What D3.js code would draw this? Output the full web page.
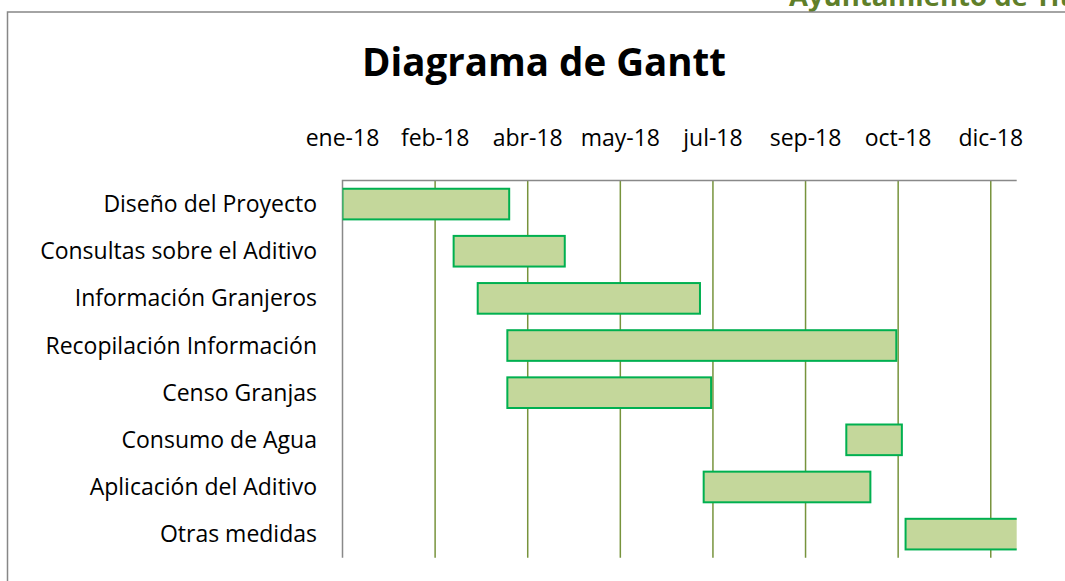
<!DOCTYPE html>
<html>
<head>
<meta charset="utf-8">
<script src="https://cdn.jsdelivr.net/npm/d3@7"></script>
<style>
  body { margin: 0; background: #fff; }
  svg { display: block; font-family: 'Open Sans', sans-serif; }
  .task-label, .tick-label { font-size: 23px; fill: #000; }
  .chart-title { font-size: 38.5px; font-weight: bold; fill: #000; }
  .header-text { font-size: 27.5px; font-weight: bold; fill: #5f7f2a; }
</style>
</head>
<body>
<svg id="gantt"></svg>
<script>
// Tasks (top to bottom), start dates and durations in days
const tasks = ['Diseño del Proyecto', 'Consultas sobre el Aditivo', 'Información Granjeros', 'Recopilación Información',
    'Censo Granjas', 'Consumo de Agua', 'Aplicación del Aditivo', 'Otras medidas'];
const startDates = ['2018-01-01', '2018-03-02', '2018-03-15', '2018-03-31', '2018-03-31', '2018-09-30', '2018-07-15', '2018-11-01'];
const durations = [90, 60, 120, 210, 110, 30, 90, 90];

// Axis: Excel date axis, major unit 50 days
const axisRange = ['2018-01-01', '2018-12-31'];
const tickDates = ['2018-01-01', '2018-02-20', '2018-04-11', '2018-05-31', '2018-07-20', '2018-09-08', '2018-10-28', '2018-12-17'];
const tickLabels = ['ene-18', 'feb-18', 'abr-18', 'may-18', 'jul-18', 'sep-18', 'oct-18', 'dic-18'];

class GanttVis {
    constructor(_config) {
        this.config = {
            parentElement: _config.parentElement,
            containerWidth: _config.containerWidth || 1065,
            containerHeight: _config.containerHeight || 581,
            plot: _config.plot || {left: 342.5, right: 1016.7, top: 180.5, bottom: 557.7}
        };
        this.parse = d3.utcParse('%Y-%m-%d');
        this.data = tasks.map((t, i) => {
            const start = this.parse(startDates[i]);
            return {task: t, start: start, end: d3.utcDay.offset(start, durations[i])};
        });
        this.initVis();
    }

    initVis() {
        let vis = this;

        vis.svg = d3.select(vis.config.parentElement)
            .attr('width', vis.config.containerWidth)
            .attr('height', vis.config.containerHeight);

        const p = vis.config.plot;
        vis.xScale = d3.scaleUtc().domain(axisRange.map(vis.parse)).range([p.left, p.right]);
        vis.yScale = d3.scaleBand().domain(tasks).range([p.top, p.bottom]).paddingInner(0.35).paddingOuter(0.175);

        // page header, cut by the top of the window as in the sheet
        vis.svg.append('text').attr('class', 'header-text')
            .attr('x', 789).attr('y', 6)
            .text('Ayuntamiento de Titaguas');

        // chart frame (only top and left visible)
        vis.svg.append('path')
            .attr('d', `M7.5,${vis.config.containerHeight} V12 H${vis.config.containerWidth}`)
            .attr('fill', 'none').attr('stroke', '#878787').attr('stroke-width', 1.5);

        vis.svg.append('text').attr('class', 'chart-title')
            .attr('x', 544).attr('y', 76)
            .attr('text-anchor', 'middle')
            .text('Diagrama de Gantt');

        vis.chart = vis.svg.append('g');
        vis.renderVis();
    }

    renderVis() {
        let vis = this;
        const p = vis.config.plot;

        // vertical gridlines
        vis.chart.selectAll('.grid')
            .data(tickDates.slice(1))
            .join('line')
            .attr('class', 'grid')
            .attr('x1', d => vis.xScale(vis.parse(d))).attr('x2', d => vis.xScale(vis.parse(d)))
            .attr('y1', p.top).attr('y2', p.bottom)
            .attr('stroke', '#77933c').attr('stroke-width', 1.5);

        // axis lines: top (date axis) and left (category axis)
        vis.chart.append('path')
            .attr('d', `M${p.left},${p.bottom} V${p.top} H${p.right}`)
            .attr('fill', 'none').attr('stroke', '#898989').attr('stroke-width', 1.5);

        vis.chart.selectAll('.tick-label')
            .data(tickDates)
            .join('text')
            .attr('class', 'tick-label')
            .attr('x', d => vis.xScale(vis.parse(d)))
            .attr('y', 146)
            .attr('text-anchor', 'middle')
            .text((d, i) => tickLabels[i]);

        vis.chart.selectAll('.task-label')
            .data(tasks)
            .join('text')
            .attr('class', 'task-label')
            .attr('x', 317)
            .attr('y', d => vis.yScale(d) + vis.yScale.bandwidth() / 2 + 8)
            .attr('text-anchor', 'end')
            .text(d => d);

        // bars, clipped at the end of the axis
        vis.svg.append('clipPath').attr('id', 'plot-clip')
            .append('rect')
            .attr('x', p.left).attr('y', p.top)
            .attr('width', p.right - p.left).attr('height', p.bottom - p.top);

        vis.chart.append('g').attr('clip-path', 'url(#plot-clip)')
            .selectAll('.bar')
            .data(vis.data)
            .join('rect')
            .attr('class', 'bar')
            .attr('x', d => vis.xScale(d.start))
            .attr('y', d => vis.yScale(d.task))
            .attr('width', d => vis.xScale(d.end) - vis.xScale(d.start))
            .attr('height', vis.yScale.bandwidth())
            .attr('fill', '#c4d79b')
            .attr('stroke', '#00b050')
            .attr('stroke-width', 2);
    }
}

new GanttVis({parentElement: '#gantt'});
</script>
</body>
</html>
